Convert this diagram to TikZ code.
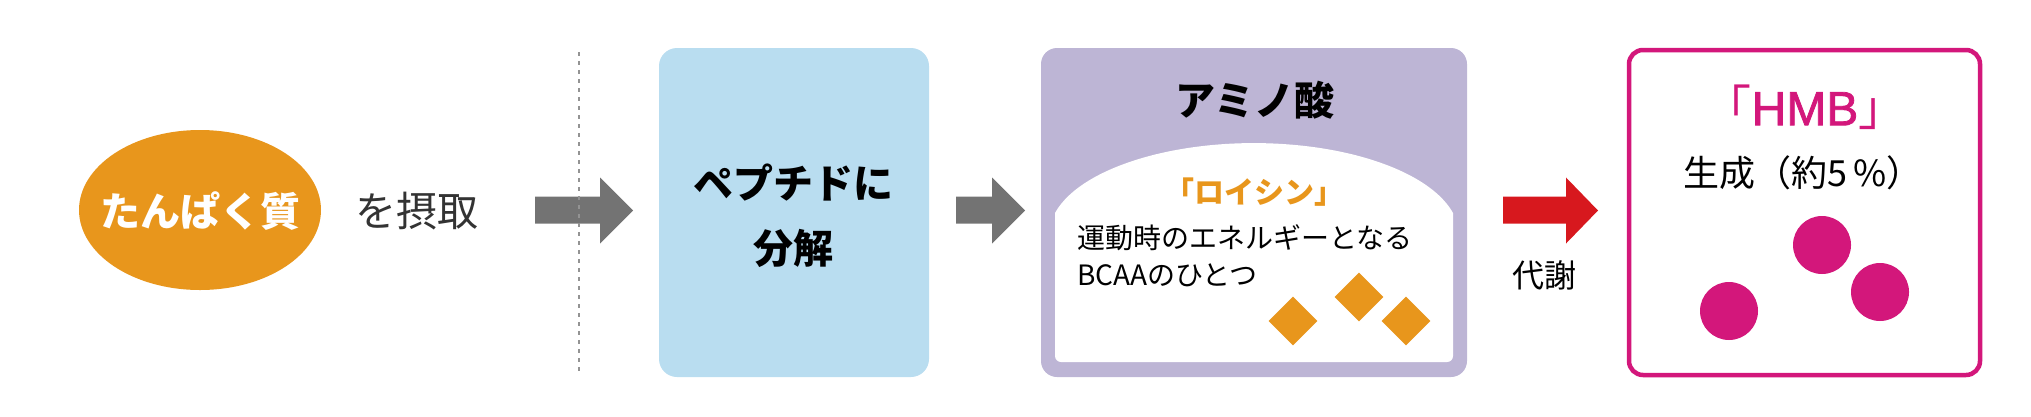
\documentclass[tikz,border=0pt]{standalone}
\usepackage{fontspec}
\setmainfont{Noto Sans CJK JP}
\newfontfamily\latinsans[FakeBold=1.6]{Liberation Sans}
\usetikzlibrary{shapes.geometric}
\definecolor{orng}{HTML}{E8961C}
\definecolor{skyb}{HTML}{B9DDF0}
\definecolor{lilac}{HTML}{BDB5D5}
\definecolor{arrgray}{HTML}{737373}
\definecolor{arrred}{HTML}{D7181E}
\definecolor{magen}{HTML}{D3177B}
\definecolor{txtgray}{HTML}{333333}
\newcommand\myfs[1]{\fontsize{#1}{#1}\selectfont}
\tikzset{
  txt/.style={inner sep=0pt, outer sep=0pt},
  dia/.style={diamond, fill=orng, minimum width=49pt, minimum height=49pt, inner sep=0pt},
  dot/.style={circle, fill=magen, minimum size=58pt, inner sep=0pt},
}
\begin{document}
\begin{tikzpicture}[x=1pt,y=-1pt]
\useasboundingbox (0,0) rectangle (2031,416);
% protein ellipse
\node[ellipse, fill=orng, minimum width=242pt, minimum height=160pt, inner sep=0pt] (prot) at (200,210) {};
\node[txt, text=white, font=\myfs{40}\bfseries] (protl) at (200,211) {たんぱく質};
\node[txt, text=txtgray, font=\myfs{41}] (take) at (417,211) {を摂取};
% arrow 1
\fill[arrgray] (535,196.5) -- (600,196.5) -- (600,177.5) -- (633,210.5) -- (600,243.5) -- (600,223.5) -- (535,223.5) -- cycle;
% dashed line
\coordinate (dtop) at (579,52);
\coordinate (dbot) at (579,373);
\draw[color=gray!85, line width=1.1pt, dash pattern=on 4pt off 5pt] (dtop) -- (dbot);
% blue box
\fill[skyb, rounded corners=18pt] (659,48) rectangle (929,377);
\node[txt, font=\myfs{40}\bfseries, align=center] (pep) at (793,215.5) {ペプチドに\\[25pt]分解};
% arrow 2
\fill[arrgray] (956,196.5) -- (992,196.5) -- (992,177.5) -- (1025,210.5) -- (992,243.5) -- (992,223.5) -- (956,223.5) -- cycle;
% purple box
\fill[lilac, rounded corners=16pt] (1041,48) rectangle (1467,377);
\fill[white] (1055,213) arc[start angle=193.9, end angle=346.1, x radius=205, y radius=92]
  -- (1453,356) arc[start angle=0, end angle=90, radius=6] -- (1061,362) arc[start angle=90, end angle=180, radius=6] -- cycle;
\node[txt, font=\myfs{40}\bfseries] (amino) at (1255,100) {アミノ酸};
\node[txt, text=orng, font=\myfs{30}\bfseries] (leu) at (1254,192) {「ロイシン」};
\node[txt, font=\myfs{28}, align=left, anchor=west] (bcaa) at (1077,255.5) {運動時のエネルギーとなる\\[9pt]BCAAのひとつ};
\node[dia] (d1) at (1293,321) {};
\node[dia] (d2) at (1359,297) {};
\node[dia] (d3) at (1406,321) {};
% red arrow
\fill[arrred] (1503,196.5) -- (1566,196.5) -- (1566,177.5) -- (1598,210.5) -- (1566,243.5) -- (1566,223.5) -- (1503,223.5) -- cycle;
\node[txt, font=\myfs{32}] (meta) at (1544,275) {代謝};
% HMB box
\draw[magen, line width=4.5pt, rounded corners=14pt] (1629,50) rectangle (1980,375);
\node[txt, text=magen, font=\myfs{48}] (hmb) at (1805,107) {「{\latinsans HMB}」};
\node[txt, font=\myfs{36}] (gen) at (1803,173) {生成（約5\,\%）};
\node[dot] (c1) at (1822,245) {};
\node[dot] (c2) at (1880,292) {};
\node[dot] (c3) at (1729,311) {};
\end{tikzpicture}
\end{document}
